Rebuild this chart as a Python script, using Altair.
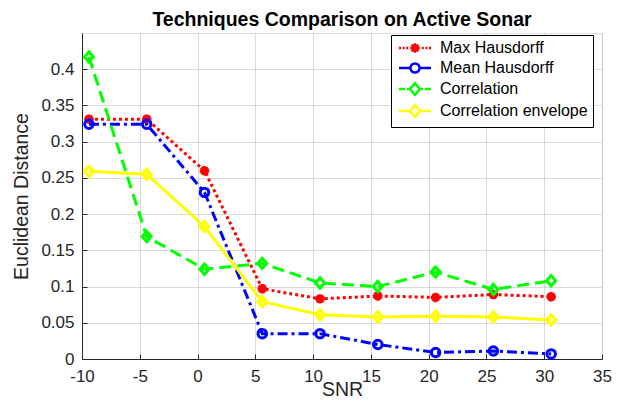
import altair as alt
import pandas as pd

# ---------------- data ----------------
snr = [-9.4, -4.4, 0.6, 5.6, 10.6, 15.6, 20.6, 25.6, 30.6]
max_hausdorff = [0.331, 0.331, 0.260, 0.097, 0.083, 0.087, 0.085, 0.089, 0.086]
mean_hausdorff = [0.324, 0.324, 0.230, 0.035, 0.035, 0.020, 0.009, 0.011, 0.007]
correlation = [0.417, 0.169, 0.124, 0.132, 0.105, 0.100, 0.120, 0.096, 0.108]
correlation_envelope = [0.259, 0.255, 0.183, 0.079, 0.061, 0.058, 0.059, 0.058, 0.054]

series_names = ["Max Hausdorff", "Mean Hausdorff", "Correlation", "Correlation envelope"]
series_values = [max_hausdorff, mean_hausdorff, correlation, correlation_envelope]
series_colors = ["#ff0000", "#0000ff", "#00ff00", "#ffff00"]

x_ticks = [-10, -5, 0, 5, 10, 15, 20, 25, 30, 35]
y_ticks = [0, 0.05, 0.1, 0.15, 0.2, 0.25, 0.3, 0.35, 0.4]

rows = []
for name, vals in zip(series_names, series_values):
    for xv, yv in zip(snr, vals):
        rows.append({"SNR": xv, "value": yv, "series": name})
df = pd.DataFrame(rows)

# ---------------- styling ----------------
FONT = "Liberation Sans"
TXT = "#262626"
W, H = 520, 326

xscale = alt.Scale(domain=[-10, 35], nice=False, zero=False)
yscale = alt.Scale(domain=[0, 0.45], nice=False, zero=False)

ASTERISK = "M-1,0L1,0M0,-1L0,1M-0.7,-0.7L0.7,0.7M-0.7,0.7L0.7,-0.7M-0.4,-0.4L0.4,0.4"
DIAMOND = "M0,-1.15L1,0L0,1.15L-1,0Z"

styles = [
    dict(dash=[3, 3], shape=ASTERISK, size=90),
    dict(dash=[10, 4, 3, 4], shape="circle", size=72),
    dict(dash=[12, 6], shape=DIAMOND, size=81),
    dict(dash=None, shape=DIAMOND, size=81),
]

# legend symbols: line piece + marker, drawn as one path each
legend_paths = [
    "M-4,0H-3.5M-3.1,0H-2.6M-2.2,0H-1.7M1.7,0H2.2M2.6,0H3.1M3.5,0H4"
    "M-1.2,0L1.2,0M0,-1.2L0,1.2M-0.85,-0.85L0.85,0.85M-0.85,0.85L0.85,-0.85"
    "M-0.5,-0.5L0.5,0.5M-0.5,0.5L0.5,-0.5",
    "M-4,0H-1.15M1.15,0H4M1.15,0A1.15,1.15,0,1,1,-1.15,0A1.15,1.15,0,1,1,1.15,0Z",
    "M-4,0H-2.4M-2,0H-1.3M1.3,0H2M2.4,0H4M0,-1.45L1.25,0L0,1.45L-1.25,0Z",
    "M-4,0H-1.25M1.25,0H4M0,-1.45L1.25,0L0,1.45L-1.25,0Z",
]

legend_def = alt.Legend(
    title=None,
    orient="none",
    legendX=309,
    legendY=2,
    strokeColor="black",
    fillColor="white",
    padding=5,
    cornerRadius=0,
    labelFont=FONT,
    labelFontSize=16,
    labelColor="black",
    symbolSize=64,
    symbolStrokeWidth=2.5,
    symbolOpacity=1,
    symbolOffset=11,
    labelOffset=17,
    rowPadding=0,
)

base = alt.Chart(df)

# main axes + legend layer (invisible marks)
main_layer = base.mark_point(opacity=0, filled=False).encode(
    x=alt.X(
        "SNR:Q",
        scale=xscale,
        axis=alt.Axis(
            values=x_ticks,
            title="SNR",
            grid=True,
            gridColor="#b4b4b4",
            gridDash=[1, 1],
            gridWidth=1,
            domainColor=TXT,
            domainWidth=1,
            ticks=False,
            labelPadding=9,
            labelFont=FONT,
            labelFontSize=17,
            labelColor=TXT,
            labelExpr="'' + datum.value",
            labelFlush=False,
            titleFont=FONT,
            titleFontSize=19.5,
            titleFontWeight="normal",
            titleColor=TXT,
            titleBaseline="alphabetic",
            titleY=36,
        ),
    ),
    y=alt.Y(
        "value:Q",
        scale=yscale,
        axis=alt.Axis(
            values=y_ticks,
            title="Euclidean Distance",
            grid=True,
            gridColor="#b4b4b4",
            gridDash=[1, 1],
            gridWidth=1,
            domainColor=TXT,
            domainWidth=1,
            ticks=False,
            labelPadding=8,
            labelFont=FONT,
            labelFontSize=17,
            labelColor=TXT,
            labelExpr="'' + datum.value",
            labelFlush=False,
            titleFont=FONT,
            titleFontSize=19.5,
            titleFontWeight="normal",
            titleColor=TXT,
            titlePadding=9,
        ),
    ),
    color=alt.Color(
        "series:N",
        scale=alt.Scale(domain=series_names, range=series_colors),
        legend=legend_def,
    ),
    shape=alt.Shape(
        "series:N",
        scale=alt.Scale(domain=series_names, range=legend_paths),
        legend=legend_def,
    ),
)

layers = [main_layer]
for name, color, st in zip(series_names, series_colors, styles):
    sub = base.transform_filter(alt.datum.series == name)
    line_kw = dict(color=color, strokeWidth=3)
    if st["dash"] is not None:
        line_kw["strokeDash"] = st["dash"]
    line = sub.mark_line(**line_kw).encode(
        x=alt.X("SNR:Q", scale=xscale, axis=None),
        y=alt.Y("value:Q", scale=yscale, axis=None),
    )
    pts = sub.mark_point(
        shape=st["shape"], size=st["size"], color=color, filled=False,
        strokeWidth=3, opacity=1,
    ).encode(
        x=alt.X("SNR:Q", scale=xscale, axis=None),
        y=alt.Y("value:Q", scale=yscale, axis=None),
    )
    layers += [line, pts]

# inward tick marks (MATLAB style)
tick_layer = base.mark_point(opacity=0).encode(
    x=alt.X(
        "SNR:Q",
        scale=xscale,
        axis=alt.Axis(orient="top", offset=-H, values=x_ticks, labels=False,
                      domain=False, grid=False, ticks=True, tickSize=5,
                      tickColor=TXT, tickWidth=1, title=None),
    ),
    y=alt.Y(
        "value:Q",
        scale=yscale,
        axis=alt.Axis(orient="right", offset=-W, values=y_ticks, labels=False,
                      domain=False, grid=False, ticks=True, tickSize=5,
                      tickColor=TXT, tickWidth=1, title=None),
    ),
)
layers.append(tick_layer)

chart = (
    alt.layer(*layers)
    .resolve_axis(x="independent", y="independent")
    .properties(
        width=W,
        height=H,
        title=alt.TitleParams(
            "Techniques Comparison on Active Sonar",
            font=FONT,
            fontSize=19.5,
            fontWeight="bold",
            color="black",
            anchor="middle",
            frame="group",
            offset=3,
        ),
        autosize=alt.AutoSizeParams(type="none"),
        padding={"left": 74, "top": 25, "right": 14, "bottom": 41},
    )
    .configure_view(stroke=None)
    .configure(background="white")
)

chart.save("out.html", embed_options={"renderer": "svg", "actions": False})
